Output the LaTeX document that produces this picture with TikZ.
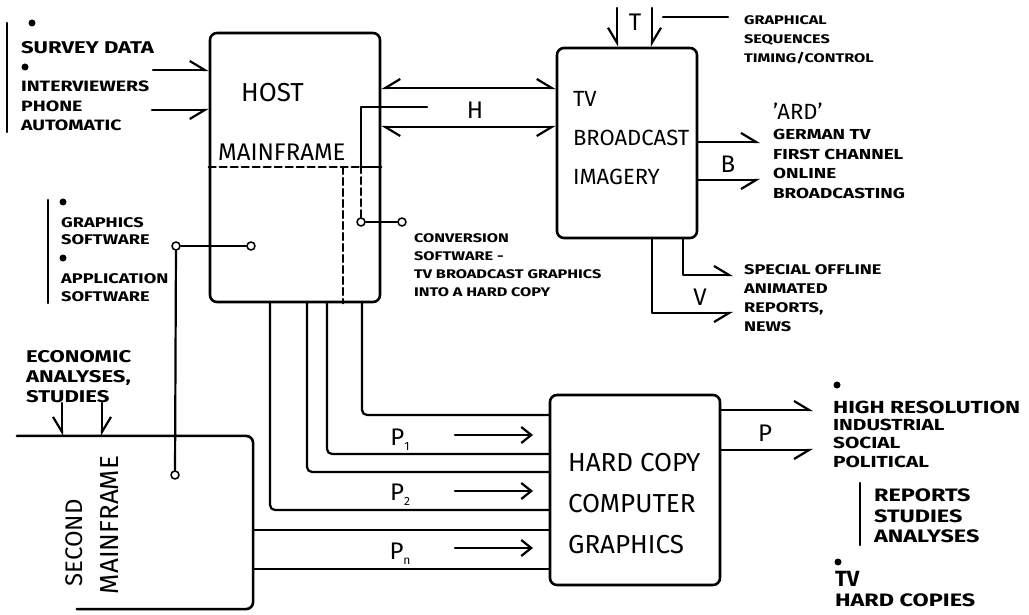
\documentclass[tikz,border=0pt]{standalone}
\usepackage{fontspec}
\setmainfont{Fira Sans}
\newfontfamily\handfont[FakeStretch=1.3]{Fira Sans}
\usetikzlibrary{arrows.meta}
\newcommand\psub[1]{P\raisebox{-5pt}{\fontsize{12}{12}\selectfont #1}}
\newcommand\hs[2]{\handfont\bfseries\fontsize{#1}{#2}\selectfont}
\begin{document}
\begin{tikzpicture}[x=1pt,y=-1pt,
  line width=2.2pt, line cap=round, line join=round,
  box/.style={draw, line width=2.6pt, rounded corners=7pt, inner sep=0pt},
  big/.style={font=\fontsize{24}{24}\selectfont, inner sep=0pt},
  bigml/.style={font=\fontsize{22}{39}\selectfont, inner sep=0pt, align=left, anchor=north west},
  small/.style={font=\hs{14}{18.5}, inner sep=0pt, align=left, anchor=north west},
  hU/.style={-{Straight Barb[harpoon,length=15pt,width=18pt]}},
  hD/.style={-{Straight Barb[harpoon,swap,length=15pt,width=18pt]}},
  full/.style={-{Straight Barb[length=10pt,width=16pt]}},
  port/.style={draw, circle, line width=1.6pt, inner sep=0pt, minimum size=8pt, fill=white},
  dot/.style={circle, fill, inner sep=0pt, minimum size=7pt},
  bar/.style={line width=2.4pt},
  dashline/.style={dash pattern=on 7pt off 4pt},
]
\useasboundingbox (0,0) rectangle (1029,615);

% boxes
\node[box, minimum width=170, minimum height=269] (host) at (295,167.5) {};
\node[box, minimum width=140, minimum height=190] (tv) at (627,143) {};
\node[box, minimum width=170, minimum height=190] (hc) at (635,490) {};
\node[inner sep=0pt, minimum width=234, minimum height=171] (sec) at (135,522.5) {};
\draw[line width=2.6pt, rounded corners=7pt] (sec.north west) -- (sec.north east) -- (sec.south east) -- ([xshift=60pt]sec.south west);

% box labels
\node[big, anchor=north west, font=\fontsize{26}{26}\selectfont] (hostA) at (240,82) {HOST};
\node[big, anchor=north west] (hostB) at (217,143) {MAINFRAME};
\node[bigml] (tvL) at (572,90) {TV\\BROADCAST\\IMAGERY};
\node[bigml, font=\fontsize{26}{41}\selectfont] (hcL) at (567,452) {HARD COPY\\COMPUTER\\GRAPHICS};
\node[big, rotate=90] (secA) at (74,543) {SECOND};
\node[big, rotate=90, font=\fontsize{26}{26}\selectfont] (secB) at (110,525) {MAINFRAME};

% letter labels
\node[big] (Hl) at (475,110) {H};
\node[big] (Tl) at (635,22) {T};
\node[big] (Bl) at (728,164) {B};
\node[big] (Vl) at (700,297) {V};
\node[big] (Pl) at (765,433) {P};
\node[big] (P1l) at (400,440) {\psub{1}};
\node[big] (P2l) at (400,495) {\psub{2}};
\node[big] (Pnl) at (400,554) {\psub{n}};

% host internal partitions
\draw[dashline] (host.west |- 0,167) -- (361,167);
\draw (361,167) -- (host.east |- 0,167);
\draw[dashline] (343,167) -- (host.south -| 343,0);

% survey inputs
\coordinate (sv1) at (153,70);
\coordinate (sv2) at (152,110);
\draw[hU] (sv1) -- (sv1 -| host.west);
\draw[hD] (sv2) -- (sv2 -| host.west);

% H link
\draw[{Straight Barb[harpoon,swap,length=15pt,width=18pt]}-{Straight Barb[harpoon,length=15pt,width=18pt]}] (host.east |- 0,88) -- (tv.west |- 0,88);
\draw[{Straight Barb[harpoon,length=15pt,width=18pt]}-{Straight Barb[harpoon,swap,length=15pt,width=18pt]}] (host.east |- 0,127) -- (tv.west |- 0,127);

% conversion software
\node[port] (c1) at (361,222) {};
\node[port] (c2) at (402,222) {};
\coordinate (cv) at (427,107);
\draw (c1) -- (c2);
\draw[dashline] (c1.north) -- (c1 |- 0,167);
\draw (c1 |- 0,167) -- (c1 |- 0,107) -- (cv);

% T inputs
\coordinate (t1) at (617,8);
\coordinate (t2) at (652,8);
\draw[hD] (t1) -- (t1 |- tv.north);
\draw[hU] (t2) -- (t2 |- tv.north);
\coordinate (tg1) at (663,17);
\coordinate (tg2) at (728,17);
\draw (tg1) -- (tg2);

% B outputs
\coordinate (b1) at (760,142);
\coordinate (b2) at (760,180);
\draw[hU] (tv.east |- b1) -- (b1);
\draw[hD] (tv.east |- b2) -- (b2);

% V outputs
\coordinate (v1) at (683,275);
\coordinate (v2) at (652,313);
\coordinate (v1e) at (733,275);
\coordinate (v2e) at (733,313);
\draw[hU] (tv.south -| v1) -- (v1) -- (v1e);
\draw[hD] (tv.south -| v2) -- (v2) -- (v2e);

% software links
\node[port] (s1) at (176,246) {};
\node[port] (s2) at (251,246) {};
\node[port] (s3) at (175,475) {};
\draw (s1) -- (s2);
\draw (s1) -- (s3);

% host to hard copy
\draw[rounded corners=5pt] (host.south -| 362,0) -- (362,415) -- (hc.west |- 0,415);
\draw[rounded corners=5pt] (host.south -| 327,0) -- (327,454) -- (hc.west |- 0,454);
\draw[rounded corners=5pt] (host.south -| 307,0) -- (307,472) -- (hc.west |- 0,472);
\draw[rounded corners=5pt] (host.south -| 270,0) -- (270,510) -- (hc.west |- 0,510);
\draw (sec.east |- 0,530) -- (hc.west |- 0,530);
\draw (sec.east |- 0,569) -- (hc.west |- 0,569);

% P arrows
\coordinate (pa1) at (455,435); \coordinate (pb1) at (533,435);
\coordinate (pa2) at (455,491); \coordinate (pb2) at (533,491);
\coordinate (pa3) at (455,548); \coordinate (pb3) at (533,548);
\draw[full] (pa1) -- (pb1);
\draw[full] (pa2) -- (pb2);
\draw[full] (pa3) -- (pb3);

% P outputs
\coordinate (po1) at (813,410);
\coordinate (po2) at (813,450);
\draw[hU] (hc.east |- po1) -- (po1);
\draw[hD] (hc.east |- po2) -- (po2);

% economic inputs
\coordinate (e1) at (62,403);
\coordinate (e2) at (102,403);
\draw[hD] (e1) -- (e1 |- sec.north);
\draw[hU] (e2) -- (e2 |- sec.north);

% bars
\draw[bar] (7,23) -- (7,132);
\draw[bar] (48,200) -- (48,303);
\draw[bar] (860,483) -- (860,545);

% bullets
\node[dot] (d1) at (32,23) {};
\node[dot] (d2) at (25,67) {};
\node[dot] (d3) at (63,202) {};
\node[dot] (d4) at (63,258) {};
\node[dot] (d5) at (837,385) {};
\node[dot] (d6) at (838,562) {};

% texts
\node[small, font=\hs{17}{19}] (tSurvey) at (20,40) {SURVEY DATA};
\node[small, font=\hs{15}{19.5}] (tInter) at (20,80) {INTERVIEWERS\\PHONE\\AUTOMATIC};
\node[small, font=\hs{14}{17}] (tGfx) at (60,216) {GRAPHICS\\SOFTWARE};
\node[small, font=\hs{14}{18}] (tApp) at (60,272) {APPLICATION\\SOFTWARE};
\node[small, font=\hs{12.5}{18}] (tConv) at (413,233) {CONVERSION\\SOFTWARE -\\TV BROADCAST GRAPHICS\\INTO A HARD COPY};
\node[small, font=\hs{12.5}{19}] (tGs) at (743,15) {GRAPHICAL\\SEQUENCES\\TIMING/CONTROL};
\node[small, font=\fontsize{22}{22}\selectfont] (tArd) at (772,102) {{\char"27}ARD{\char"27}};
\node[small, font=\hs{14.5}{19.7}] (tGer) at (772,128) {GERMAN TV\\FIRST CHANNEL\\ONLINE\\BROADCASTING};
\node[small, font=\hs{14}{19}] (tSpec) at (743,263) {SPECIAL OFFLINE\\ANIMATED\\REPORTS,\\NEWS};
\node[small, font=\hs{17}{20}] (tEcon) at (25,349) {ECONOMIC\\ANALYSES,\\STUDIES};
\node[small, font=\hs{17.5}{17}] (tHigh) at (832,400) {HIGH RESOLUTION};
\node[small, font=\hs{16}{18.5}] (tInd) at (832,418) {INDUSTRIAL\\SOCIAL\\POLITICAL};
\node[small, font=\hs{18}{20.5}] (tRep) at (873,488) {REPORTS\\STUDIES\\ANALYSES};
\node[small, font=\bfseries\fontsize{22}{22}\selectfont] (tTv) at (834,570) {TV};
\node[small, font=\hs{18}{18}] (tHc) at (834,593) {HARD COPIES};
\end{tikzpicture}
\end{document}
